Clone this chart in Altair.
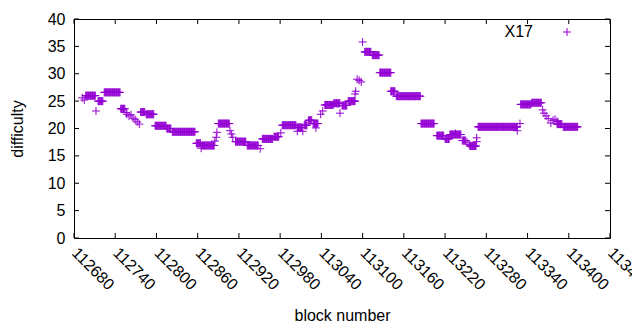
import altair as alt
import pandas as pd

series_name = "X17"

# constant-difficulty runs: first block, last block, difficulty
run_start = [112692, 112695, 112697, 112712, 112715, 112724, 112748, 112756, 112757, 112760, 112763,
             112766, 112769, 112772, 112775, 112777, 112785, 112798, 112815, 112823, 112858, 112865,
             112866, 112885, 112887, 112888, 112890, 112907, 112909, 112911, 112915, 112932, 112951,
             112954, 112971, 112981, 112983, 113005, 113005, 113013, 113015, 113021, 113028, 113032,
             113039, 113042, 113045, 113058, 113067, 113070, 113079, 113089, 113090, 113092, 113095,
             113098, 113100, 113103, 113114, 113125, 113141, 113149, 113185, 113208, 113220, 113227,
             113235, 113245, 113252, 113255, 113256, 113266, 113266, 113268, 113325, 113329, 113330,
             113346, 113362, 113364, 113367, 113370, 113374, 113377, 113380, 113383, 113383, 113392]
run_end = [112692, 112695, 112711, 112712, 112722, 112747, 112754, 112756, 112757, 112760, 112763,
           112766, 112769, 112772, 112775, 112783, 112796, 112814, 112821, 112856, 112864, 112865,
           112884, 112885, 112887, 112888, 112906, 112907, 112909, 112911, 112930, 112948, 112951,
           112969, 112978, 112981, 113003, 113005, 113012, 113013, 113019, 113026, 113035, 113032,
           113039, 113042, 113057, 113067, 113067, 113077, 113089, 113089, 113090, 113092, 113095,
           113098, 113100, 113112, 113124, 113141, 113147, 113184, 113204, 113218, 113226, 113243,
           113235, 113250, 113252, 113255, 113265, 113266, 113266, 113325, 113325, 113329, 113345,
           113360, 113362, 113364, 113367, 113370, 113374, 113377, 113380, 113383, 113390, 113413]
run_value = [25.6, 25.2, 26.0, 23.2, 25.0, 26.6, 23.6, 22.9, 22.6, 22.3, 22.5,
             21.9, 21.6, 21.2, 20.8, 23.0, 22.6, 20.5, 20.0, 19.4, 17.3, 16.4,
             16.9, 17.7, 18.4, 19.3, 20.9, 19.6, 19.0, 18.4, 17.6, 16.9, 16.3,
             18.1, 18.5, 19.2, 20.6, 19.5, 20.2, 19.5, 20.6, 21.5, 20.9, 20.1,
             22.6, 23.2, 24.3, 24.6, 22.8, 24.2, 25.0, 26.3, 26.8, 29.0, 28.8,
             28.5, 35.8, 34.0, 33.4, 30.2, 26.8, 25.9, 20.9, 18.7, 18.1, 18.9,
             19.1, 17.8, 17.5, 17.1, 16.8, 18.3, 17.6, 20.3, 19.6, 20.9, 24.4,
             24.7, 23.4, 22.8, 22.3, 21.8, 21.0, 21.5, 21.7, 21.3, 20.8, 20.3]

x_ticks = list(range(112680, 113461, 60))
y_ticks = [0, 5, 10, 15, 20, 25, 30, 35, 40]

rows = []
for s, e, v in zip(run_start, run_end, run_value):
    for b in range(s, e + 1):
        rows.append({"block": b, "difficulty": v, "series": series_name})
df = pd.DataFrame(rows)

W, H = 536, 219
FONT = "Liberation Sans"
FS = 16
PURPLE = "#9400d3"
PLUS = "M-1,0L1,0M0,-1L0,1"

xscale = alt.Scale(domain=[112680, 113460], nice=False, zero=False)
yscale = alt.Scale(domain=[0, 40], nice=False)

x_axis = alt.Axis(values=x_ticks, format="d", labelAngle=45, labelAlign="left",
                  labelBaseline="middle", labelPadding=12, tickSize=0, domain=False,
                  grid=False, labelFont=FONT, labelFontSize=FS, labelColor="black",
                  title="block number", titleFont=FONT, titleFontSize=FS,
                  titleFontWeight="normal", titleColor="black", titleX=268, titleY=77,
                  titleBaseline="middle", titleAlign="center", labelOverlap=False,
                  labelFlush=False, labelBound=False)
y_axis = alt.Axis(values=y_ticks, labelPadding=9, tickSize=0, domain=False, grid=False,
                  labelFont=FONT, labelFontSize=FS, labelColor="black",
                  title="difficulty", titleFont=FONT, titleFontSize=FS,
                  titleFontWeight="normal", titleColor="black", titleX=-57,
                  titleY=H / 2, titleAngle=-90, titleBaseline="middle",
                  titleAlign="center", labelOverlap=False, labelFlush=False)

points = alt.Chart(df).mark_point(shape=PLUS, filled=False, size=64, strokeWidth=1,
                                  color=PURPLE, opacity=1).encode(
    x=alt.X("block:Q", scale=xscale, axis=x_axis),
    y=alt.Y("difficulty:Q", scale=yscale, axis=y_axis),
)

xt = pd.DataFrame({"block": x_ticks})
yt = pd.DataFrame({"difficulty": y_ticks})

tick_b = alt.Chart(xt).mark_rule(color="black", strokeWidth=1).encode(
    x=alt.X("block:Q", scale=xscale, axis=x_axis), y=alt.value(H), y2=alt.value(H - 5))
tick_t = alt.Chart(xt).mark_rule(color="black", strokeWidth=1).encode(
    x=alt.X("block:Q", scale=xscale, axis=x_axis), y=alt.value(0), y2=alt.value(5))
tick_l = alt.Chart(yt).mark_rule(color="black", strokeWidth=1).encode(
    y=alt.Y("difficulty:Q", scale=yscale, axis=y_axis), x=alt.value(0), x2=alt.value(5))
tick_r = alt.Chart(yt).mark_rule(color="black", strokeWidth=1).encode(
    y=alt.Y("difficulty:Q", scale=yscale, axis=y_axis), x=alt.value(W), x2=alt.value(W - 5))

leg = pd.DataFrame({"series": [series_name]})
leg_text = alt.Chart(leg).mark_text(align="right", baseline="middle", font=FONT,
                                    fontSize=FS, color="black").encode(
    text="series:N", x=alt.value(459), y=alt.value(13))
leg_pt = alt.Chart(leg).mark_point(shape=PLUS, filled=False, size=64, strokeWidth=1,
                                   color=PURPLE, opacity=1).encode(
    x=alt.value(493), y=alt.value(13))

chart = alt.layer(points, tick_b, tick_t, tick_l, tick_r, leg_text, leg_pt).properties(
    width=W, height=H,
    autosize=alt.AutoSizeParams(type="none"),
    padding={"left": 66, "top": 11, "right": 22, "bottom": 84},
    background="white",
).configure_view(stroke="black", strokeWidth=1)

chart.save("out.html", embed_options={"renderer": "svg", "actions": False})
